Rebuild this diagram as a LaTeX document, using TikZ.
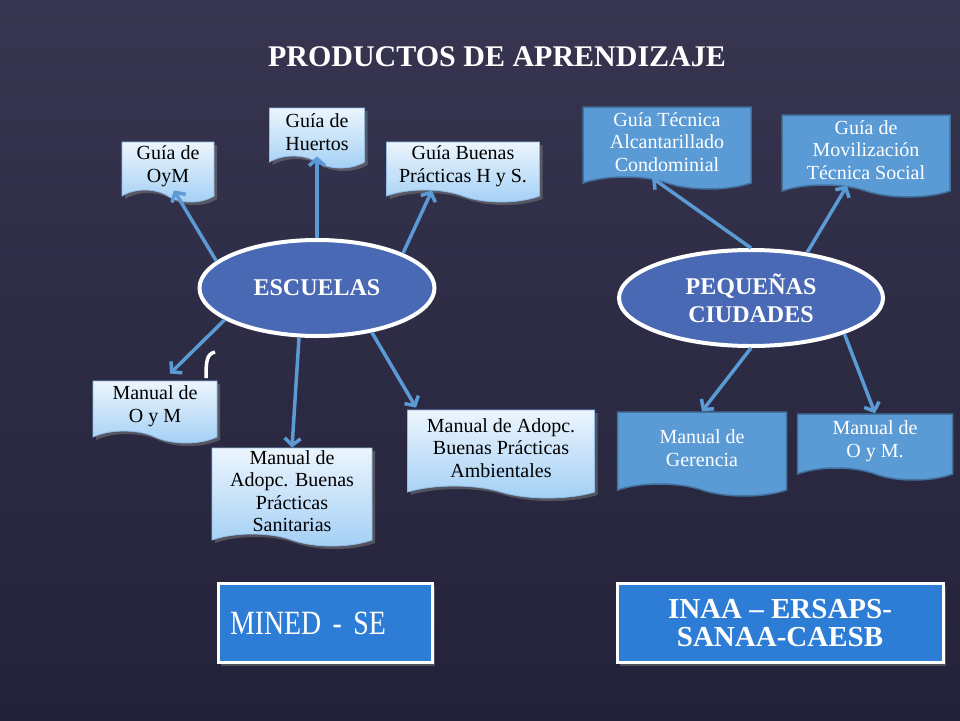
\documentclass[tikz,border=0pt]{standalone}
\usepackage{fontspec}
\setmainfont{Liberation Serif}
\newfontfamily\condfont[FakeStretch=0.82]{Liberation Serif}
\usetikzlibrary{shapes.geometric,shapes.symbols,shadows,arrows.meta}
\definecolor{bgtop}{HTML}{37354F}
\definecolor{bgbot}{HTML}{23223A}
\definecolor{ovalfill}{HTML}{4A69B4}
\definecolor{arrowblue}{HTML}{5B9BD5}
\definecolor{doclight}{HTML}{ECF5FD}
\definecolor{docshade}{HTML}{A2CFF5}
\definecolor{docedge}{HTML}{8FBCE6}
\definecolor{docmid}{HTML}{5B9BD5}
\definecolor{docdark}{HTML}{41719C}
\definecolor{boxblue}{HTML}{2D7DD6}
\begin{document}
\begin{tikzpicture}[x=1pt,y=-1pt,
	oval/.style={ellipse,draw=white,line width=4pt,fill=ovalfill,text=white,align=center,inner sep=0pt,font=\fontsize{24}{28}\selectfont\bfseries},
	ldoc/.style={shape=tape,tape bend top=none,tape bend bottom=out and in,tape bend height=12pt,top color=doclight,bottom color=docshade,draw=docedge,line width=0.8pt,drop shadow={opacity=0.5,shadow xshift=3pt,shadow yshift=-3pt},align=center,inner sep=2pt,font=\fontsize{20}{22.5}\selectfont},
	rdoc/.style={shape=tape,tape bend top=none,tape bend bottom=out and in,tape bend height=12pt,fill=docmid,draw=docdark,line width=1.5pt,text=white,align=center,inner sep=2pt,font=\fontsize{20}{22.5}\selectfont},
	bbox/.style={rectangle,fill=boxblue,draw=white,line width=3pt,text=white,drop shadow={opacity=0.5,shadow xshift=3pt,shadow yshift=-3pt},minimum height=79pt},
	arr/.style={draw=arrowblue,line width=3.5pt,-{Straight Barb[length=7pt,width=16pt]}}]
	\fill[top color=bgtop,bottom color=bgbot] (0,0) rectangle (960,720);
	\useasboundingbox (0,0) rectangle (960,720);

	\node[text=white,font=\fontsize{30}{34}\selectfont\bfseries] (title) at (497,57) {PRODUCTOS DE APRENDIZAJE};

	\node[oval,minimum width=235pt,minimum height=96pt] (esc) at (317,288) {ESCUELAS};
	\node[oval,minimum width=264pt,minimum height=96pt] (peq) at (751,298) {PEQUEÑAS\\CIUDADES};

	\node[ldoc,minimum width=92pt,minimum height=60pt] (oym) at (168,166) {Guía de\\OyM};
	\node[ldoc,minimum width=95pt,minimum height=60pt] (huertos) at (317,132) {Guía de\\Huertos};
	\node[ldoc,minimum width=153pt,minimum height=60pt] (buenas) at (463,166) {Guía Buenas\\Prácticas H y S.};
	\node[ldoc,minimum width=124pt,minimum height=62pt] (manoym) at (155,406) {Manual de\\O y M};
	\node[ldoc,minimum width=160pt,minimum height=98pt] (sanit) at (292,491) {Manual de\\Adopc. Buenas\\Prácticas\\Sanitarias};
	\node[ldoc,minimum width=187pt,minimum height=88pt] (ambient) at (501,448) {Manual de Adopc.\\Buenas Prácticas\\Ambientales};

	\node[rdoc,minimum width=168pt,minimum height=82pt] (alcant) at (667,142) {Guía Técnica\\Alcantarillado\\Condominial};
	\node[rdoc,minimum width=168pt,minimum height=82pt] (moviliz) at (866,150) {Guía de\\Movilización\\Técnica Social};
	\node[rdoc,minimum width=169pt,minimum height=84pt] (gerencia) at (702,448) {Manual de\\Gerencia};
	\node[rdoc,minimum width=155pt,minimum height=66pt] (manoym2) at (875,441) {Manual de\\O y M.};

	\node[bbox,minimum width=214pt,text width=190pt,inner sep=12pt,align=left,font=\fontsize{34}{36}\condfont] (mined) at (325,623) {MINED - SE};
	\node[bbox,minimum width=326pt,align=center,font=\fontsize{29}{28}\selectfont\bfseries] (inaa) at (780,623) {INAA – ERSAPS-\\SANAA-CAESB};

	% escuelas
	\draw[arr] (esc.165) -- ([xshift=6pt]oym.south);
	\draw[arr] (esc.90) -- (huertos.south);
	\draw[arr] (esc.22) -- ([xshift=-31pt]buenas.south);
	\draw[arr] (esc.199) -- ([xshift=15pt,yshift=7pt]manoym.north);
	\draw[arr] (esc.250) -- (sanit.north);
	\draw[arr] (esc.-39) -- ([xshift=9pt,yshift=2pt]ambient.north west);
	% pequenas ciudades
	\draw[arr] (peq.90) -- ([xshift=-15pt]alcant.south);
	\draw[arr] (peq.39) -- ([xshift=-19pt]moviliz.south);
	\draw[arr] (peq.270) -- (gerencia.north);
	\draw[arr] (peq.-21) -- (manoym2.north);

	\draw[white,line width=3.5pt] (215,352) .. controls (207,354) and (206,360) .. (206,378);
\end{tikzpicture}
\end{document}
